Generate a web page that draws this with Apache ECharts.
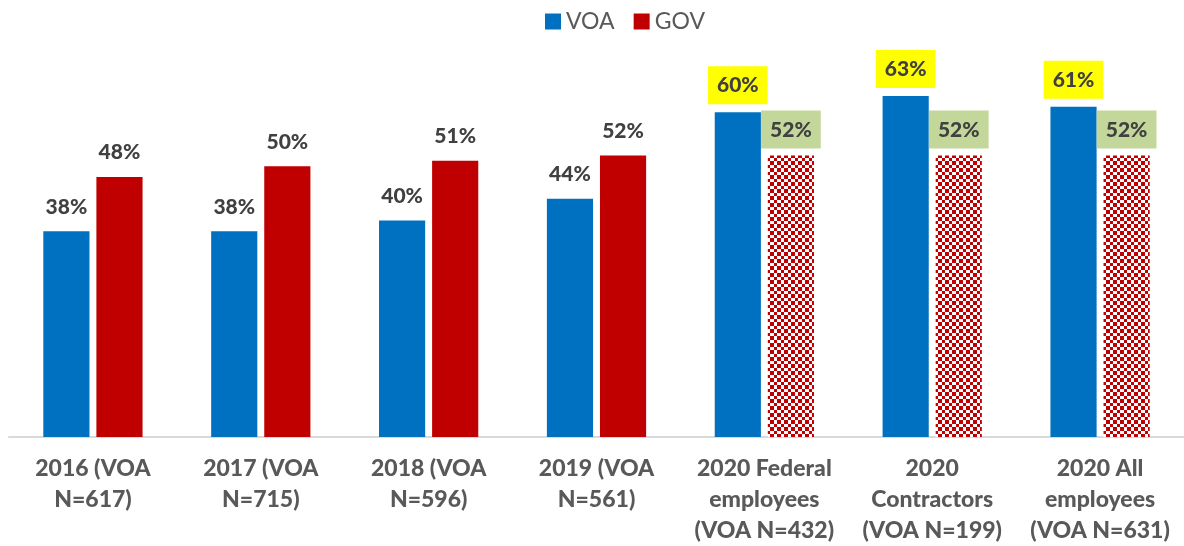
<!DOCTYPE html>
<html><head><meta charset="utf-8">
<script src="https://cdn.jsdelivr.net/npm/echarts@6/dist/echarts.min.js"></script>
<style>html,body{margin:0;padding:0;background:#fff}#c{width:1184px;height:546px}</style>
</head><body><div id="c"></div>
<script>
const categories = ["2016 (VOA\nN=617)", "2017 (VOA\nN=715)", "2018 (VOA\nN=596)", "2019 (VOA\nN=561)", "2020 Federal\nemployees\n(VOA N=432)", "2020\nContractors\n(VOA N=199)", "2020 All\nemployees\n(VOA N=631)"];
const voaValues = [38, 38, 40, 44, 60, 63, 61];
const govValues = [48, 50, 51, 52, 52, 52, 52];
const highlighted = [false, false, false, false, true, true, true];

// checker pattern
const pc = document.createElement('canvas');
pc.width = 7; pc.height = 7;
const px = pc.getContext('2d');
px.fillStyle = '#ffffff'; px.fillRect(0,0,7,7);
px.fillStyle = '#c00000'; px.fillRect(0,0,4,4); px.fillRect(4,4,3,3);

const baseLabel = {show: true, position: 'top', distance: 14, formatter: '{c}%', fontFamily: 'Lato', fontWeight: 900, fontSize: 21, color: '#404040'};

const voaData = voaValues.map((v, i) => highlighted[i] ? {
  value: v,
  label: {backgroundColor: '#ffff00', padding: [9, 9, 8, 9], distance: 8}
} : v);
const govData = govValues.map((v, i) => highlighted[i] ? {
  value: v,
  itemStyle: {color: {image: pc, repeat: 'repeat'}},
  label: {backgroundColor: '#c4d79b', padding: [9, 9, 8, 9], distance: 7}
} : v);

const chart = echarts.init(document.getElementById('c'), null, {renderer: 'canvas'});
chart.setOption({
  animation: false,
  legend: {
    left: 540, top: 5, itemWidth: 16, itemHeight: 16, itemGap: 19,
    icon: 'rect',
    textStyle: {fontFamily: 'Lato', fontSize: 23, color: '#595959'},
    data: ['VOA', 'GOV']
  },
  grid: {left: 9, right: -3, top: 58, bottom: 109, containLabel: false},
  xAxis: {
    type: 'category', data: categories,
    axisLine: {lineStyle: {color: '#d9d9d9', width: 2}},
    axisTick: {show: false},
    axisLabel: {interval: 0, margin: 16, fontFamily: 'Lato', fontWeight: 900, fontSize: 23, lineHeight: 31, color: '#595959'}
  },
  yAxis: {type: 'value', min: 0, max: 70, show: false, splitLine: {show: false}},
  series: [
    {name: 'VOA', type: 'bar', data: voaData, barWidth: '27.5%', barGap: '15%', itemStyle: {color: '#0070c0'}, label: baseLabel},
    {name: 'GOV', type: 'bar', data: govData, barWidth: '27.5%', itemStyle: {color: '#c00000'}, label: baseLabel}
  ]
});
</script></body></html>
